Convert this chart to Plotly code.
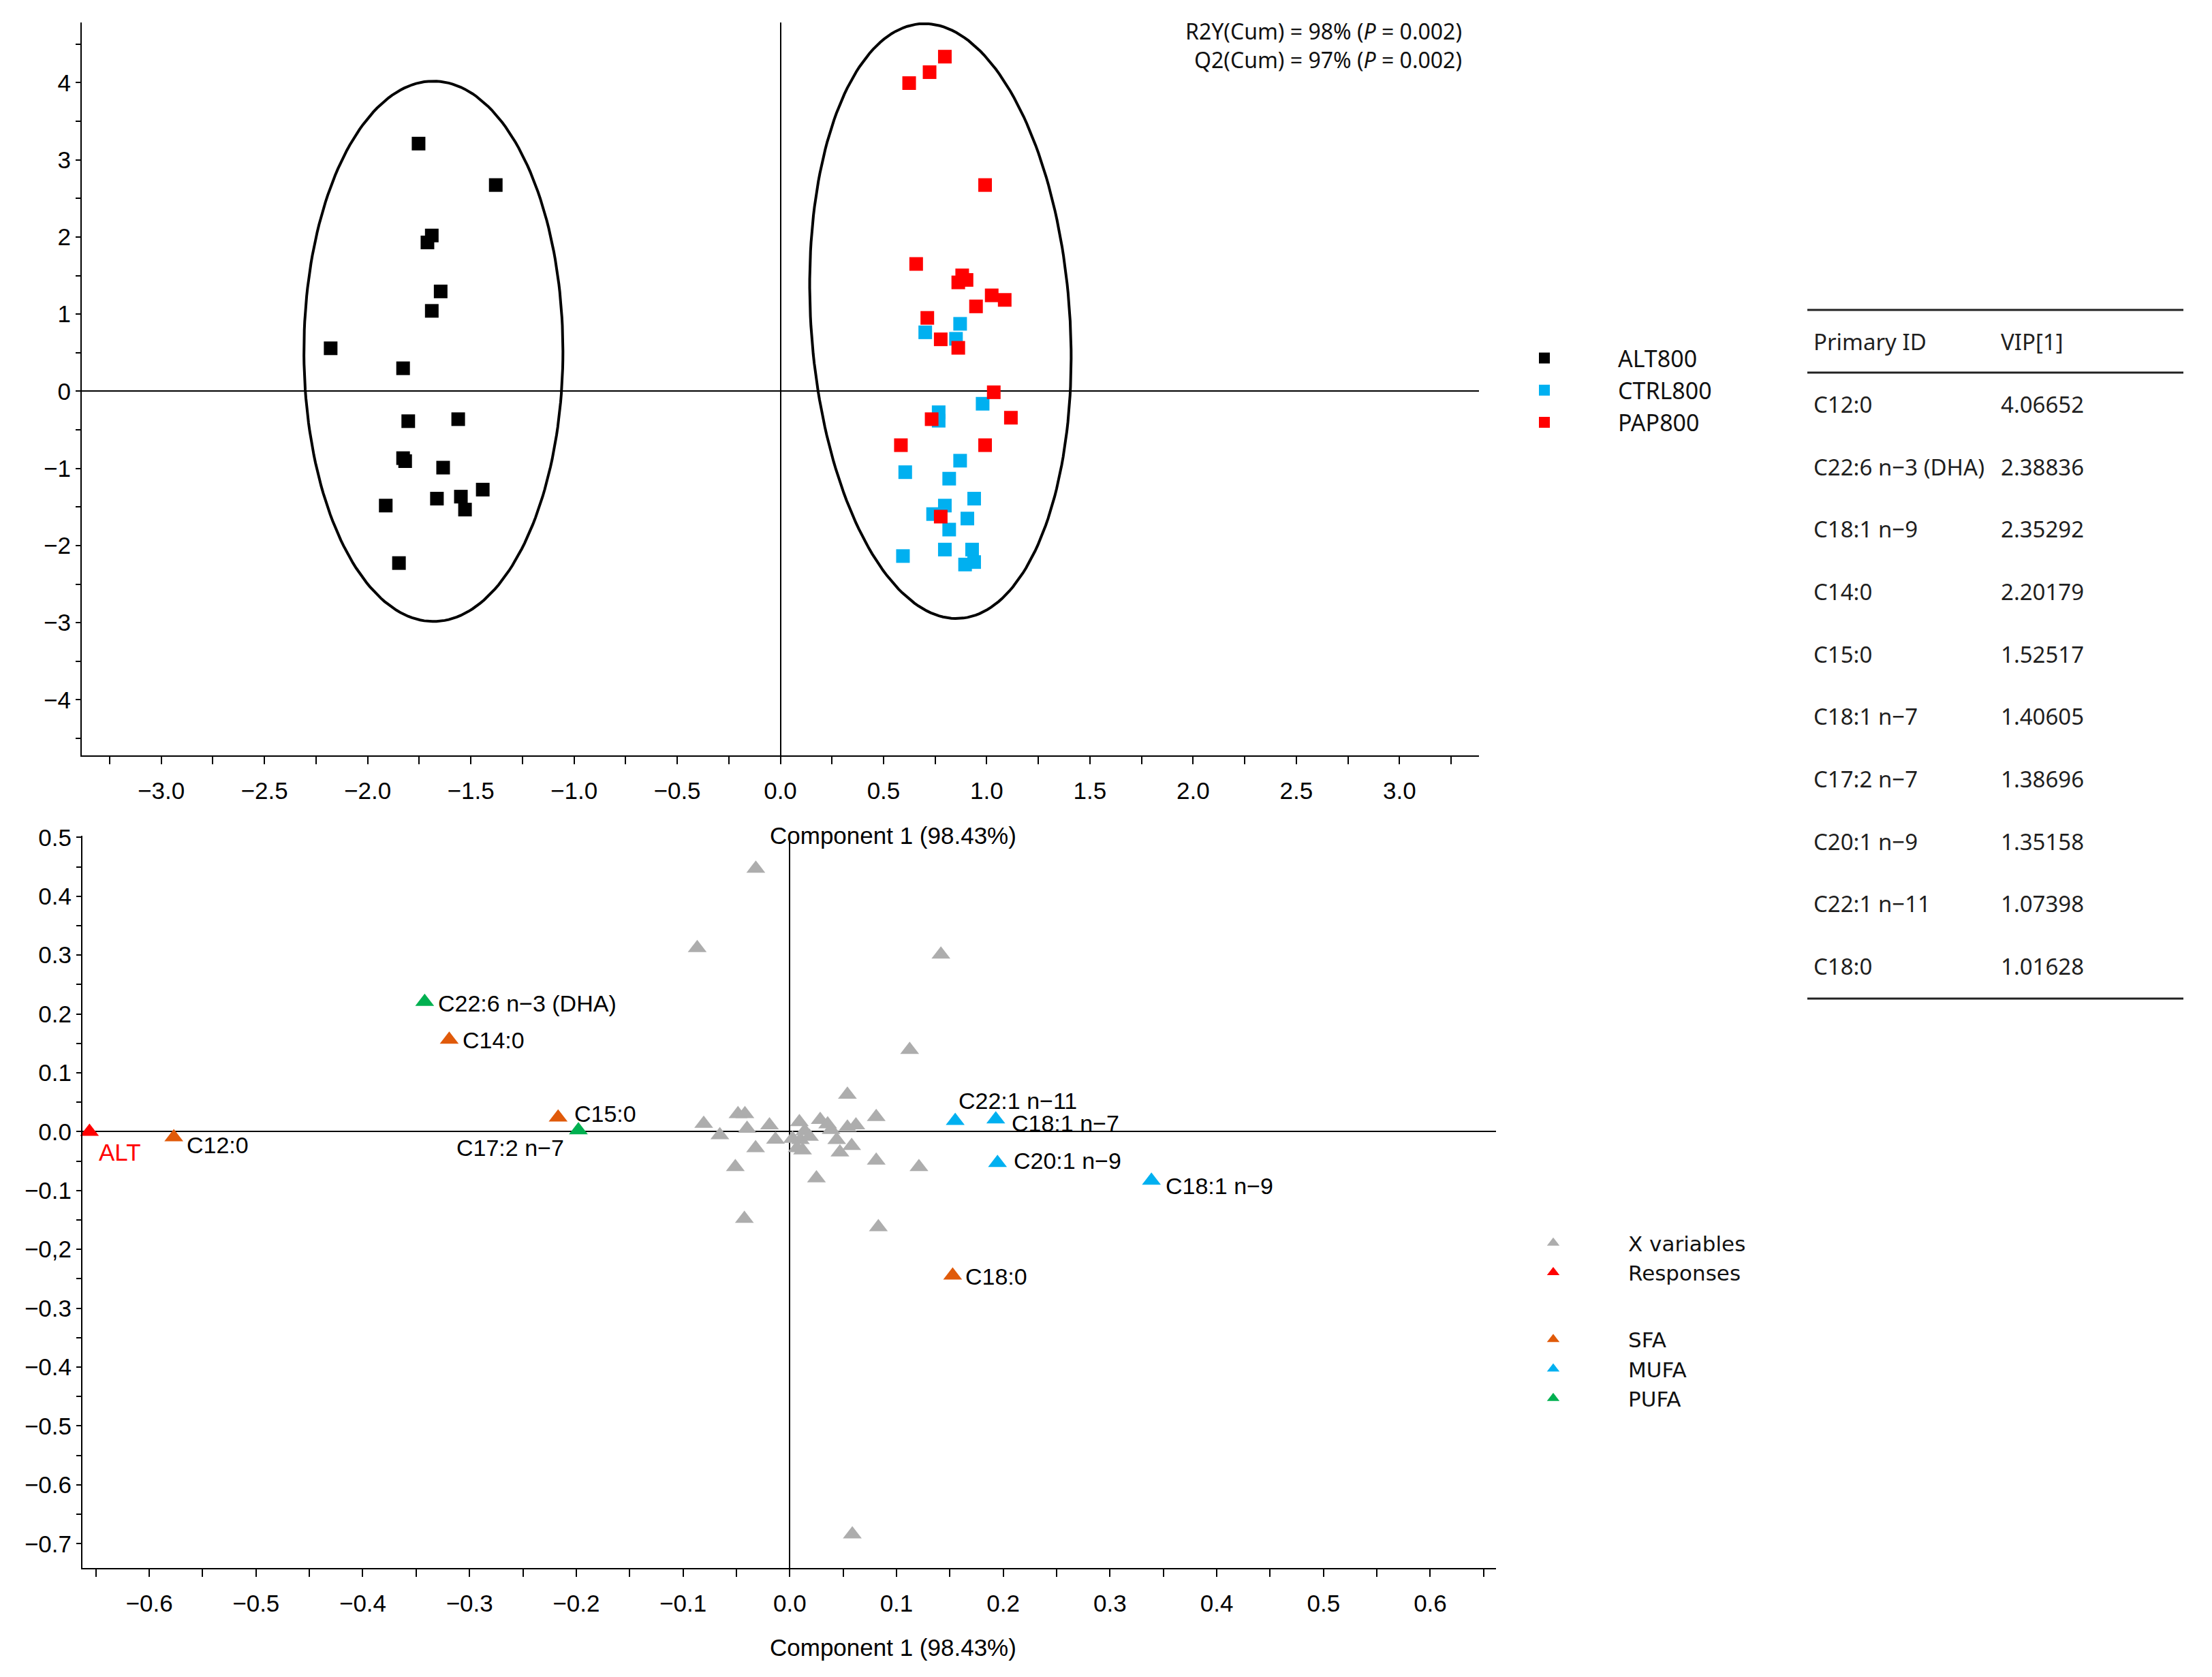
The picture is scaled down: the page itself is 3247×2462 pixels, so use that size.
import numpy as np
import plotly.graph_objects as go

W, H = 3247, 2462

ARIAL = "Liberation Sans, Arial, sans-serif"
APTOS = "Noto Sans, sans-serif"
VERDANA = "DejaVu Sans, Verdana, sans-serif"

# ---------------- scores plot (top) ----------------
alt_x = [-1.753, -1.379, -1.689, -1.710, -1.646, -1.689, -2.179, -1.828, -1.803, -1.561,
         -1.828, -1.818, -1.634, -1.442, -1.664, -1.548, -1.528, -1.912, -1.848]
alt_y = [3.210, 2.673, 2.019, 1.929, 1.294, 1.042, 0.557, 0.298, -0.388, -0.362,
         -0.867, -0.906, -0.990, -1.275, -1.392, -1.366, -1.534, -1.482, -2.227]

ctrl_x = [0.871, 0.702, 0.851, 0.980, 0.767, 0.767, 0.871, 0.605, 0.818, 0.939,
          0.797, 0.740, 0.906, 0.818, 0.797, 0.929, 0.594, 0.939, 0.895]
ctrl_y = [0.874, 0.764, 0.680, -0.162, -0.272, -0.382, -0.900, -1.049, -1.133, -1.392,
          -1.482, -1.592, -1.650, -1.793, -2.052, -2.052, -2.136, -2.214, -2.246]

pap_x = [0.624, 0.723, 0.797, 0.992, 0.658, 0.881, 0.902, 0.862, 1.024, 1.087,
         0.948, 0.712, 0.777, 0.862, 1.034, 1.117, 0.733, 0.584, 0.992, 0.777]
pap_y = [3.994, 4.136, 4.337, 2.673, 1.650, 1.502, 1.443, 1.411, 1.243, 1.184,
         1.100, 0.951, 0.673, 0.563, -0.013, -0.343, -0.362, -0.699, -0.699, -1.625]

# confidence ellipses: centre, half width, half height, shear of the top point
ell_cx = [-1.681, 0.7755]
ell_cy = [0.518, 0.9095]
ell_a = [0.6275, 0.6287]
ell_b = [3.502, 3.855]
ell_s = [0.0, 0.0775]

# ---------------- loadings plot (bottom) ----------------
xvar_x = [-0.0318, -0.0867, 0.1416, 0.1123, 0.0586, -0.0806, -0.0655, -0.0485, -0.042,
          -0.040, -0.019, -0.032, -0.051, -0.0425, -0.0134, 0.009, 0.0026, 0.010,
          0.0185, 0.0068, 0.012, 0.0285, 0.0355, 0.0387, 0.054, 0.054, 0.062,
          0.044, 0.058, 0.047, 0.081, 0.081, 0.121, 0.025, 0.083, 0.014]
xvar_y = [0.447, 0.312, 0.301, 0.139, -0.684, 0.0135, -0.0058, 0.030, 0.030,
          0.005, 0.011, -0.028, -0.060, -0.148, -0.0135, 0.0165, -0.012, -0.014,
          -0.0085, -0.028, -0.0316, 0.020, 0.0127, 0.003, 0.063, 0.007, 0.011,
          -0.014, -0.024, -0.035, 0.025, -0.049, -0.060, -0.079, -0.162, 0.001]

resp_names = ["ALT", "CTRL PAP"]
resp_x = [-0.656, 0.663]
resp_y = [0.0, 0.0]

sfa_names = ["C12:0", "C14:0", "C15:0", "C18:0"]
sfa_x = [-0.577, -0.319, -0.217, 0.1526]
sfa_y = [-0.0095, 0.1563, 0.0241, -0.2442]

mufa_names = ["C22:1 n\u221211", "C18:1 n\u22127", "C20:1 n\u22129", "C18:1 n\u22129"]
mufa_x = [0.155, 0.193, 0.1946, 0.3388]
mufa_y = [0.0185, 0.021, -0.053, -0.0831]

pufa_names = ["C22:6 n\u22123 (DHA)", "C17:2 n\u22127"]
pufa_x = [-0.342, -0.198]
pufa_y = [0.2206, 0.0025]

# ---------------- VIP table ----------------
vip_ids = ["C12:0", "C22:6 n\u22123 (DHA)", "C18:1 n\u22129", "C14:0", "C15:0",
           "C18:1 n\u22127", "C17:2 n\u22127", "C20:1 n\u22129", "C22:1 n\u221211", "C18:0"]
vip_vals = ["4.06652", "2.38836", "2.35292", "2.20179", "1.52517",
            "1.40605", "1.38696", "1.35158", "1.07398", "1.01628"]

# ---------------- tick labels ----------------
top_x_labels = ["\u22123.0", "\u22122.5", "\u22122.0", "\u22121.5", "\u22121.0", "\u22120.5", "0.0",
                "0.5", "1.0", "1.5", "2.0", "2.5", "3.0"]
top_y_labels = ["\u22124", "\u22123", "\u22122", "\u22121", "0", "1", "2", "3", "4"]
bot_x_labels = ["\u22120.6", "\u22120.5", "\u22120.4", "\u22120.3", "\u22120.2", "\u22120.1", "0.0",
                "0.1", "0.2", "0.3", "0.4", "0.5", "0.6"]
bot_y_labels = ["\u22120.7", "\u22120.6", "\u22120.5", "\u22120.4", "\u22120.3", "\u22120,2", "\u22120.1",
                "0.0", "0.1", "0.2", "0.3", "0.4", "0.5"]

BLACK = "#000000"
BLUE = "#00B0F0"
RED = "#FF0000"
GREY = "#ADADAD"
ORANGE = "#E05A0A"
GREEN = "#00B050"


def px(x):
    return x / W


def py(y):
    return 1 - y / H


def ticks(lo, hi, step, first_label, label_step, labels):
    vals = np.round(np.arange(lo, hi + step / 2, step), 4)
    text = []
    for v in vals:
        k = (v - first_label) / label_step
        if abs(k - round(k)) < 1e-6 and 0 <= round(k) < len(labels):
            text.append(labels[int(round(k))])
        else:
            text.append("")
    return list(vals), text


fig = go.Figure()

# ellipses
t = np.linspace(0, 2 * np.pi, 200)
for cx, cy, a, b, s in zip(ell_cx, ell_cy, ell_a, ell_b, ell_s):
    fig.add_trace(go.Scatter(
        x=cx + a * np.cos(t) - s * np.sin(t), y=cy + b * np.sin(t),
        mode="lines", line=dict(color=BLACK, width=4),
        showlegend=False, hoverinfo="skip", xaxis="x", yaxis="y"))

for name, xs, ys, col in [("ALT800", alt_x, alt_y, BLACK),
                          ("CTRL800", ctrl_x, ctrl_y, BLUE),
                          ("PAP800", pap_x, pap_y, RED)]:
    fig.add_trace(go.Scatter(
        x=xs, y=ys, mode="markers", name=name,
        marker=dict(symbol="square", size=20, color=col),
        xaxis="x", yaxis="y", legend="legend"))

# loadings
tri = dict(symbol="triangle-up", size=24)
fig.add_trace(go.Scatter(x=xvar_x, y=xvar_y, mode="markers", name="X variables",
                         marker=dict(color=GREY, **tri), legendgroup="a",
                         xaxis="x2", yaxis="y2", legend="legend2"))
fig.add_trace(go.Scatter(x=resp_x, y=resp_y, mode="markers", name="Responses",
                         marker=dict(color=RED, **tri), legendgroup="a", cliponaxis=False,
                         xaxis="x2", yaxis="y2", legend="legend2"))
fig.add_trace(go.Scatter(x=sfa_x, y=sfa_y, mode="markers", name="SFA",
                         marker=dict(color=ORANGE, **tri), legendgroup="b",
                         xaxis="x2", yaxis="y2", legend="legend2"))
fig.add_trace(go.Scatter(x=mufa_x, y=mufa_y, mode="markers", name="MUFA",
                         marker=dict(color=BLUE, **tri), legendgroup="b",
                         xaxis="x2", yaxis="y2", legend="legend2"))
fig.add_trace(go.Scatter(x=pufa_x, y=pufa_y, mode="markers", name="PUFA",
                         marker=dict(color=GREEN, **tri), legendgroup="b",
                         xaxis="x2", yaxis="y2", legend="legend2"))

# label offsets (px) for the named loadings
label_pos = {
    "ALT": (12, -30, "left"),
    "CTRL PAP": (18, -6, "left"),
    "C12:0": (17, -11, "left"),
    "C14:0": (18, -1, "left"),
    "C15:0": (22, 6, "left"),
    "C18:0": (17, -2, "left"),
    "C22:1 n\u221211": (3, 29, "left"),
    "C18:1 n\u22127": (21, -6, "left"),
    "C20:1 n\u22129": (22, 3, "left"),
    "C18:1 n\u22129": (19, -8, "left"),
    "C22:6 n\u22123 (DHA)": (18, -2, "left"),
    "C17:2 n\u22127": (-19, -26, "right"),
}

annotations = []
for names, xs, ys, col in [(resp_names, resp_x, resp_y, RED),
                           (sfa_names, sfa_x, sfa_y, BLACK),
                           (mufa_names, mufa_x, mufa_y, BLACK),
                           (pufa_names, pufa_x, pufa_y, BLACK)]:
    for n, x, y in zip(names, xs, ys):
        dx, dy, anc = label_pos[n]
        annotations.append(dict(
            x=x, y=y, xref="x2", yref="y2", text=n, showarrow=False,
            xanchor=anc, yanchor="middle", xshift=dx, yshift=dy,
            font=dict(family=ARIAL, size=34 if col == BLACK else 35, color=col)))

# statistics text
annotations.append(dict(
    x=px(2148), y=py(67), xref="paper", yref="paper", showarrow=False,
    xanchor="right", yanchor="middle", align="right",
    text="R2Y(Cum) = 98% (<i>P</i> = 0.002)<br>Q2(Cum) = 97% (<i>P</i> = 0.002)",
    font=dict(family=APTOS, size=32, color="#111111")))

# axis titles
for yy in (1226, 2418):
    annotations.append(dict(
        x=px(1311), y=py(yy), xref="paper", yref="paper", showarrow=False,
        xanchor="center", yanchor="middle", text="Component 1 (98.43%)",
        font=dict(family=ARIAL, size=35, color=BLACK)))

# VIP table
tfont = dict(family=APTOS, size=33, color="#1f1f1f")
annotations.append(dict(x=px(2660), y=py(502), xref="paper", yref="paper", showarrow=False,
                        xanchor="left", yanchor="middle", text="Primary ID", font=tfont))
annotations.append(dict(x=px(2935), y=py(502), xref="paper", yref="paper", showarrow=False,
                        xanchor="left", yanchor="middle", text="VIP[1]", font=tfont))
for k, (pid, v) in enumerate(zip(vip_ids, vip_vals)):
    yy = 593.3 + k * 91.7
    annotations.append(dict(x=px(2660), y=py(yy), xref="paper", yref="paper", showarrow=False,
                            xanchor="left", yanchor="middle", text=pid, font=tfont))
    annotations.append(dict(x=px(2935), y=py(yy), xref="paper", yref="paper", showarrow=False,
                            xanchor="left", yanchor="middle", text=v, font=tfont))

shapes = []
for yy in (455, 547, 1466):
    shapes.append(dict(type="line", xref="paper", yref="paper",
                       x0=px(2653), x1=px(3205), y0=py(yy), y1=py(yy),
                       line=dict(color="#222222", width=3)))

tx_vals, tx_text = ticks(-3.25, 3.25, 0.25, -3.0, 0.5, top_x_labels)
ty_vals, ty_text = ticks(-4.5, 4.5, 0.5, -4.0, 1.0, top_y_labels)
bx_vals, bx_text = ticks(-0.65, 0.65, 0.05, -0.6, 0.1, bot_x_labels)
by_vals, by_text = ticks(-0.7, 0.5, 0.05, -0.7, 0.1, bot_y_labels)

axis_style = dict(showline=True, linecolor=BLACK, linewidth=2, mirror=False,
                  ticks="outside", tickcolor=BLACK, tickwidth=2,
                  tickfont=dict(family=ARIAL, size=35, color=BLACK),
                  showgrid=False, zeroline=True, zerolinecolor=BLACK, zerolinewidth=1.5,
                  tickmode="array", automargin=False)

# twin axes that only draw the inner half of the crossing tick marks
inner_style = dict(ticks="inside", tickcolor=BLACK, tickwidth=2, showticklabels=False,
                   showline=False, showgrid=False, zeroline=False, tickmode="array")

X_RANGE_TOP = [-3.385, 3.385]
Y_RANGE_TOP = [-4.72, 4.78]
X_RANGE_BOT = [-0.6626, 0.6616]
Y_RANGE_BOT = [-0.7413, 0.5027]

fig.update_layout(
    width=W, height=H,
    margin=dict(l=0, r=0, t=0, b=0),
    paper_bgcolor="white", plot_bgcolor="white",
    xaxis=dict(domain=[px(120), px(2171)], range=X_RANGE_TOP, anchor="y",
               tickvals=tx_vals, ticktext=tx_text, ticklen=11, ticklabelstandoff=9,
               **axis_style),
    yaxis=dict(domain=[py(1109), py(33)], range=Y_RANGE_TOP, anchor="x",
               tickvals=ty_vals, ticktext=ty_text, ticklen=7, **axis_style),
    xaxis2=dict(domain=[px(121), px(2196)], range=X_RANGE_BOT, anchor="y2",
                tickvals=bx_vals, ticktext=bx_text, ticklen=11, ticklabelstandoff=9,
                **axis_style),
    yaxis2=dict(domain=[py(2302), py(1227)], range=Y_RANGE_BOT, anchor="x2",
                tickvals=by_vals, ticktext=by_text, ticklen=7, **axis_style),
    xaxis3=dict(overlaying="x", anchor="y", side="bottom", range=X_RANGE_TOP,
                tickvals=tx_vals, ticklen=6, **inner_style),
    yaxis3=dict(overlaying="y", anchor="x", side="left", range=Y_RANGE_TOP,
                tickvals=ty_vals, ticklen=9, **inner_style),
    xaxis4=dict(overlaying="x2", anchor="y2", side="bottom", range=X_RANGE_BOT,
                tickvals=bx_vals, ticklen=6, **inner_style),
    yaxis4=dict(overlaying="y2", anchor="x2", side="left", range=Y_RANGE_BOT,
                tickvals=by_vals, ticklen=9, **inner_style),
    legend=dict(x=px(2159), y=py(497), xanchor="left", yanchor="top",
                font=dict(family=APTOS, size=34, color="#111111"),
                itemwidth=206, bgcolor="rgba(0,0,0,0)", borderwidth=0),
    legend2=dict(x=px(2170), y=py(1798), xanchor="left", yanchor="top",
                 font=dict(family=VERDANA, size=31, color="#111111"),
                 itemwidth=210, traceorder="grouped", tracegroupgap=55,
                 bgcolor="rgba(0,0,0,0)", borderwidth=0),
    annotations=annotations,
    shapes=shapes,
    showlegend=True,
)

fig.write_html("out.html", config={"displayModeBar": False},
               post_script="document.body.style.margin='0';")
